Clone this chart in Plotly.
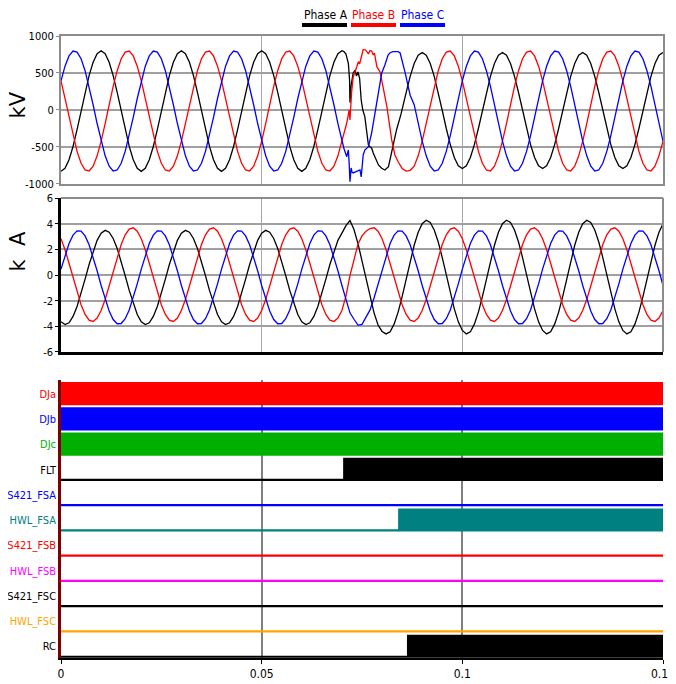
import plotly.graph_objects as go

# ---------------- data ----------------
# sample grids (ms)
T_PRE_MS = list(range(0, 71))      # 0 .. 70 ms
T_POST_MS = list(range(88, 151))   # 88 .. 150 ms
T_FULL_MS = list(range(0, 151))    # 0 .. 150 ms

# Voltages (kV) before the fault, 1 ms samples
VA_PRE = [-829,-789,-673,-493,-266,-14,238,465,645,761,801,761,645,465,238,-14,-266,-493,-673,-789,
          -829,-789,-673,-493,-266,-14,238,465,645,761,801,761,645,465,238,-14,-266,-493,-673,-789,
          -829,-789,-673,-493,-266,-14,238,465,645,761,801,761,645,465,238,-14,-266,-493,-673,-789,
          -829,-789,-673,-493,-266,-14,238,465,645,761,801]
VB_PRE = [394,155,-99,-346,-559,-720,-811,-825,-759,-620,-422,-183,71,318,531,692,783,797,731,592,
          394,155,-99,-346,-559,-720,-811,-825,-759,-620,-422,-183,71,318,531,692,783,797,731,592,
          394,155,-99,-346,-559,-720,-811,-825,-759,-620,-422,-183,71,318,531,692,783,797,731,592,
          394,155,-99,-346,-559,-720,-811,-825,-759,-620,-422]
VC_PRE = [394,592,731,797,783,692,531,318,71,-183,-422,-620,-759,-825,-811,-720,-559,-346,-99,155,
          394,592,731,797,783,692,531,318,71,-183,-422,-620,-759,-825,-811,-720,-559,-346,-99,155,
          394,592,731,797,783,692,531,318,71,-183,-422,-620,-759,-825,-811,-720,-559,-346,-99,155,
          394,592,731,797,783,692,531,318,71,-183,-422]

# Voltages during the fault (irregular points, ms / kV)
VA_FLT_T = [70.5,71.0,71.6,71.9,72.0,72.3,72.8,73.3,73.6,74.0,74.4,74.8,75.2,75.7,76.2,76.6,77.0,77.4,
            77.8,78.2,78.6,79.1,79.9,80.7,81.6,82.4,83.0,83.6,84.7,85.3,86.0,87.0]
VA_FLT_V = [790,755,631,405,100,338,500,540,460,513,432,135,0,-90,-270,-473,-500,-514,
            -581,-631,-700,-743,-788,-811,-766,-581,-430,-270,-60,60,236,454]
VB_FLT_T = [70.5,71.2,71.8,72.0,72.4,72.8,73.7,74.1,74.4,74.9,75.3,75.9,76.6,77.0,77.4,77.8,78.1,78.7,
            79.5,80.3,81.2,82.4,83.2,84.0,85.0,86.0,87.0]
VB_FLT_V = [-300,-176,0,-135,230,446,585,653,622,743,818,811,757,804,797,743,770,585,
            514,297,45,-405,-608,-700,-790,-825,-815]
VC_FLT_T = [70.5,71.2,71.6,71.8,72.0,72.3,72.5,72.8,73.7,74.5,74.8,75.1,75.3,75.7,76.6,77.4,78.2,79.1,
            79.9,80.7,81.5,82.0,82.7,84.0,84.5,85.7,87.0]
VC_FLT_V = [-520,-631,-541,-716,-969,-784,-838,-851,-834,-811,-905,-716,-608,-541,-496,-311,-41,203,
            496,608,743,774,788,788,770,514,200]

# Voltages after the fault, 1 ms samples (88 .. 150 ms)
VA_POST = [628,740,778,740,628,454,236,-7,-250,-468,-642,-754,
           -792,-754,-642,-468,-250,-7,236,454,628,740,778,740,628,454,236,-7,-250,-468,-642,-754,
           -792,-754,-642,-468,-250,-7,236,454,628,740,778,740,628,454,236,-7,-250,-468,-642,-754,
           -792,-754,-642,-468,-250,-7,236,454,628,740,778]
VB_POST = [-759,-620,-422,-183,71,318,531,692,783,797,731,592,
           394,155,-99,-346,-559,-720,-811,-825,-759,-620,-422,-183,71,318,531,692,783,797,731,592,
           394,155,-99,-346,-559,-720,-811,-825,-759,-620,-422,-183,71,318,531,692,783,797,731,592,
           394,155,-99,-346,-559,-720,-811,-825,-759,-620,-422]
VC_POST = [71,-183,-422,-620,-759,-825,-811,-720,-559,-346,-99,155,
           394,592,731,797,783,692,531,318,71,-183,-422,-620,-759,-825,-811,-720,-559,-346,-99,155,
           394,592,731,797,783,692,531,318,71,-183,-422,-620,-759,-825,-811,-720,-559,-346,-99,155,
           394,592,731,797,783,692,531,318,71,-183,-422]

# Currents (kA), 1 ms samples 0 .. 150 ms
IA = [-3.64,-3.86,-3.72,-3.23,-2.45,-1.45,-0.32,0.82,1.86,2.70,3.26,3.48,3.34,2.85,2.07,1.07,-0.06,-1.20,-2.24,-3.08,
      -3.64,-3.86,-3.72,-3.23,-2.45,-1.45,-0.32,0.82,1.86,2.70,3.26,3.48,3.34,2.85,2.07,1.07,-0.06,-1.20,-2.24,-3.08,
      -3.64,-3.86,-3.72,-3.23,-2.45,-1.45,-0.32,0.82,1.86,2.70,3.26,3.48,3.34,2.85,2.07,1.07,-0.06,-1.20,-2.24,-3.08,
      -3.64,-3.86,-3.72,-3.23,-2.45,-1.45,-0.32,0.82,1.86,2.70,3.26,3.85,4.25,3.55,2.45,1.10,-0.35,-1.75,-2.95,-3.90,
      -4.40,-4.59,-4.42,-3.83,-2.89,-1.68,-0.31,1.06,2.32,3.33,4.00,4.27,4.10,3.51,2.57,1.36,0.00,-1.38,-2.64,-3.65,
      -4.32,-4.59,-4.42,-3.83,-2.89,-1.68,-0.31,1.06,2.32,3.33,4.00,4.27,4.10,3.51,2.57,1.36,0.00,-1.38,-2.64,-3.65,
      -4.32,-4.59,-4.42,-3.83,-2.89,-1.68,-0.31,1.06,2.32,3.33,4.00,4.27,4.10,3.51,2.57,1.36,0.00,-1.38,-2.64,-3.65,
      -4.32,-4.59,-4.42,-3.83,-2.89,-1.68,-0.31,1.06,2.32,3.33,4.00]
IB = [2.83,1.97,0.92,-0.23,-1.34,-2.32,-3.07,-3.52,-3.62,-3.36,-2.77,-1.91,-0.86,0.29,1.40,2.38,3.13,3.58,3.68,3.42,
      2.83,1.97,0.92,-0.23,-1.34,-2.32,-3.07,-3.52,-3.62,-3.36,-2.77,-1.91,-0.86,0.29,1.40,2.38,3.13,3.58,3.68,3.42,
      2.83,1.97,0.92,-0.23,-1.34,-2.32,-3.07,-3.52,-3.62,-3.36,-2.77,-1.91,-0.86,0.29,1.40,2.38,3.13,3.58,3.68,3.42,
      2.83,1.97,0.92,-0.23,-1.34,-2.32,-3.07,-3.52,-3.62,-3.36,-2.77,-1.65,-0.05,1.30,2.40,3.05,3.42,3.62,3.68,3.42,
      2.83,1.97,0.92,-0.23,-1.34,-2.32,-3.07,-3.52,-3.62,-3.36,-2.77,-1.91,-0.86,0.29,1.40,2.38,3.13,3.58,3.68,3.42,
      2.83,1.97,0.92,-0.23,-1.34,-2.32,-3.07,-3.52,-3.62,-3.36,-2.77,-1.91,-0.86,0.29,1.40,2.38,3.13,3.58,3.68,3.42,
      2.83,1.97,0.92,-0.23,-1.34,-2.32,-3.07,-3.52,-3.62,-3.36,-2.77,-1.91,-0.86,0.29,1.40,2.38,3.13,3.58,3.68,3.42,
      2.83,1.97,0.92,-0.23,-1.34,-2.32,-3.07,-3.52,-3.62,-3.36,-2.77]
IC = [0.46,1.54,2.45,3.11,3.44,3.42,3.05,2.36,1.42,0.33,-0.82,-1.90,-2.81,-3.47,-3.80,-3.78,-3.41,-2.72,-1.79,-0.69,
      0.46,1.54,2.45,3.11,3.44,3.42,3.05,2.36,1.42,0.33,-0.82,-1.90,-2.81,-3.47,-3.80,-3.78,-3.41,-2.72,-1.79,-0.69,
      0.46,1.54,2.45,3.11,3.44,3.42,3.05,2.36,1.42,0.33,-0.82,-1.90,-2.81,-3.47,-3.80,-3.78,-3.41,-2.72,-1.79,-0.69,
      0.46,1.54,2.45,3.11,3.44,3.42,3.05,2.36,1.42,0.33,-0.82,-1.90,-2.95,-3.45,-3.90,-3.85,-3.30,-2.72,-1.79,-0.69,
      0.46,1.54,2.45,3.11,3.44,3.42,3.05,2.36,1.42,0.33,-0.82,-1.90,-2.81,-3.47,-3.80,-3.78,-3.41,-2.72,-1.79,-0.69,
      0.46,1.54,2.45,3.11,3.44,3.42,3.05,2.36,1.42,0.33,-0.82,-1.90,-2.81,-3.47,-3.80,-3.78,-3.41,-2.72,-1.79,-0.69,
      0.46,1.54,2.45,3.11,3.44,3.42,3.05,2.36,1.42,0.33,-0.82,-1.90,-2.81,-3.47,-3.80,-3.78,-3.41,-2.72,-1.79,-0.69,
      0.46,1.54,2.45,3.11,3.44,3.42,3.05,2.36,1.42,0.33,-0.82]

PHASE_NAMES = ["Phase A", "Phase B", "Phase C"]
PHASE_COLORS = ["#000000", "#ff0000", "#0000ff"]

# Digital channels
CH_NAMES = ["DJa", "DJb", "DJc", "FLT", "S421_FSA", "HWL_FSA", "S421_FSB", "HWL_FSB", "S421_FSC", "HWL_FSC", "RC"]
CH_COLORS = ["#ff0000", "#0000ff", "#00b000", "#000000", "#0000ff", "#008080", "#ff0000", "#ff00ff", "#000000", "#ffa500", "#000000"]
CH_EDGES = [[0, 0.15], [0, 0.15], [0, 0.15], [0, 0.0703, 0.15], [0, 0.15], [0, 0.084, 0.15],
            [0, 0.15], [0, 0.15], [0, 0.15], [0, 0.15], [0, 0.0862, 0.15]]
CH_STATES = [[1, 1], [1, 1], [1, 1], [0, 1, 1], [0, 0], [0, 1, 1], [0, 0], [0, 0], [0, 0], [0, 0], [0, 1, 1]]

X_TICKS = [0, 0.05, 0.1, 0.15]
X_TICKTEXT = ["0", "0.05", "0.1", "0.15"]
KV_TICKS = [-1000, -500, 0, 500, 1000]
KA_TICKS = [-6, -4, -2, 0, 2, 4, 6]

# ---------------- figure ----------------
FONT = "DejaVu Sans Condensed, DejaVu Sans, sans-serif"
fig = go.Figure()


def ms_to_s(lst):
    return [t / 1000.0 for t in lst]


volt_series = [
    (VA_PRE, VA_FLT_T, VA_FLT_V, VA_POST),
    (VB_PRE, VB_FLT_T, VB_FLT_V, VB_POST),
    (VC_PRE, VC_FLT_T, VC_FLT_V, VC_POST),
]
for (pre, ft, fv, post), name, col in zip(volt_series, PHASE_NAMES, PHASE_COLORS):
    fig.add_trace(go.Scatter(
        x=ms_to_s(T_PRE_MS + ft + T_POST_MS), y=pre + fv + post,
        mode="lines", line=dict(color=col, width=1.3), name=name,
        xaxis="x", yaxis="y", showlegend=False))

for vals, name, col in zip([IA, IB, IC], PHASE_NAMES, PHASE_COLORS):
    fig.add_trace(go.Scatter(
        x=ms_to_s(T_FULL_MS), y=vals, mode="lines",
        line=dict(color=col, width=1.3), name=name,
        xaxis="x2", yaxis="y2", showlegend=False))

BAR_H = 0.87
n_ch = len(CH_NAMES)
tick_pos = []
tick_txt = []
for k, (nm, col, edges, states) in enumerate(zip(CH_NAMES, CH_COLORS, CH_EDGES, CH_STATES)):
    base = (n_ch - 1 - k) + 0.05
    fig.add_trace(go.Scatter(
        x=[edges[0], edges[-1]], y=[base, base], mode="lines",
        line=dict(color=col, width=2.2), xaxis="x3", yaxis="y3", showlegend=False,
        hoverinfo="skip"))
    fig.add_trace(go.Scatter(
        x=edges, y=[base + BAR_H * s for s in states], mode="lines",
        line=dict(color=col, width=0, shape="hv"), fill="tonexty", fillcolor=col,
        xaxis="x3", yaxis="y3", showlegend=False, name=nm))
    tick_pos.append(base + 0.4)
    tick_txt.append('<span style="color:%s">%s</span>' % (col, nm))

tickfont = dict(family=FONT, size=11, color="#000000")

# The page body has an 8 px margin, so the figure is 8 px smaller than the window.
fig.update_layout(
    template="none",
    width=668, height=676,
    margin=dict(l=53, r=13, t=28, b=26, pad=0),
    paper_bgcolor="white", plot_bgcolor="white",
    font=dict(family=FONT, size=11, color="#000000"),
    showlegend=False,
    xaxis=dict(domain=[0, 1], range=[0, 0.15], anchor="y", showticklabels=False,
               tickvals=[0.05, 0.1], showgrid=True, gridcolor="#a8a8a8", gridwidth=1,
               showline=True, mirror=True, linecolor="#8c8c8c", linewidth=2,
               zeroline=False, ticks="", automargin=False),
    yaxis=dict(domain=[0.7621, 1], range=[-1000, 1000], anchor="x",
               tickvals=KV_TICKS, ticktext=[str(v) for v in KV_TICKS],
               showgrid=True, gridcolor="#a0a0a0", gridwidth=1.5,
               showline=True, mirror=True, linecolor="#8c8c8c", linewidth=2,
               zeroline=False, ticks="outside", ticklen=3, tickcolor="#8c8c8c",
               tickfont=tickfont, automargin=False),
    xaxis2=dict(domain=[0, 1], range=[0, 0.15], anchor="y2", showticklabels=False,
                tickvals=[0.05, 0.1], showgrid=True, gridcolor="#a8a8a8", gridwidth=1,
                showline=True, linecolor="#000000", linewidth=2.5,
                zeroline=False, ticks="", automargin=False),
    yaxis2=dict(domain=[0.4920, 0.7395], range=[-6, 6], anchor="x2",
                tickvals=KA_TICKS, ticktext=[str(v) for v in KA_TICKS],
                showgrid=True, gridcolor="#a0a0a0", gridwidth=1.5,
                showline=True, linecolor="#000000", linewidth=2.5,
                zeroline=False, ticks="outside", ticklen=3, tickcolor="#000000",
                tickfont=tickfont, automargin=False),
    xaxis3=dict(domain=[0, 1], range=[0, 0.15], anchor="y3",
                tickvals=X_TICKS, ticktext=X_TICKTEXT, tickfont=dict(family=FONT, size=12),
                showgrid=False, showline=True, linecolor="#000000", linewidth=2,
                zeroline=False, ticks="outside", ticklen=4, tickcolor="#000000",
                layer="above traces", automargin=False,
                minor=dict(tickmode="array", tickvals=[0.05, 0.1], showgrid=True,
                           gridcolor="#808080", gridwidth=2, ticks="")),
    yaxis3=dict(domain=[0, 0.4469], range=[0, 11], anchor="x3",
                tickvals=tick_pos, ticktext=tick_txt, tickfont=tickfont,
                showgrid=False, showline=True, linecolor="#800000", linewidth=2.5,
                zeroline=False, ticks="", automargin=False),
)

# gray top/right border of the current panel
fig.add_shape(type="line", xref="x2 domain", yref="y2 domain", x0=0, x1=1, y0=1, y1=1,
              line=dict(color="#8c8c8c", width=2))
fig.add_shape(type="line", xref="x2 domain", yref="y2 domain", x0=1, x1=1, y0=0, y1=1,
              line=dict(color="#8c8c8c", width=2))

# axis titles
fig.add_annotation(text="kV", xref="paper", yref="paper", x=-0.0714, y=0.8883,
                   textangle=-90, showarrow=False, font=dict(family="DejaVu Sans", size=21),
                   xanchor="center", yanchor="middle")
fig.add_annotation(text="k\u00a0\u00a0A", xref="paper", yref="paper", x=-0.0714, y=0.6535,
                   textangle=-90, showarrow=False, font=dict(family="DejaVu Sans", size=21),
                   xanchor="center", yanchor="middle")

# custom legend: coloured text with a thick underline
LEG_TEXT_X = [0.4402, 0.5191, 0.6013]
LEG_LINE_X = [(0.4003, 0.4751), (0.4817, 0.5565), (0.5631, 0.6379)]
for name, col, tx, (lx0, lx1) in zip(PHASE_NAMES, PHASE_COLORS, LEG_TEXT_X, LEG_LINE_X):
    fig.add_annotation(text=name, xref="paper", yref="paper", x=tx, y=1.0338,
                       showarrow=False, font=dict(family=FONT, size=12, color=col),
                       xanchor="center", yanchor="middle")
    fig.add_shape(type="line", xref="paper", yref="paper", x0=lx0, x1=lx1,
                  y0=1.0177, y1=1.0177, line=dict(color=col, width=4))

fig.write_html("out.html")
